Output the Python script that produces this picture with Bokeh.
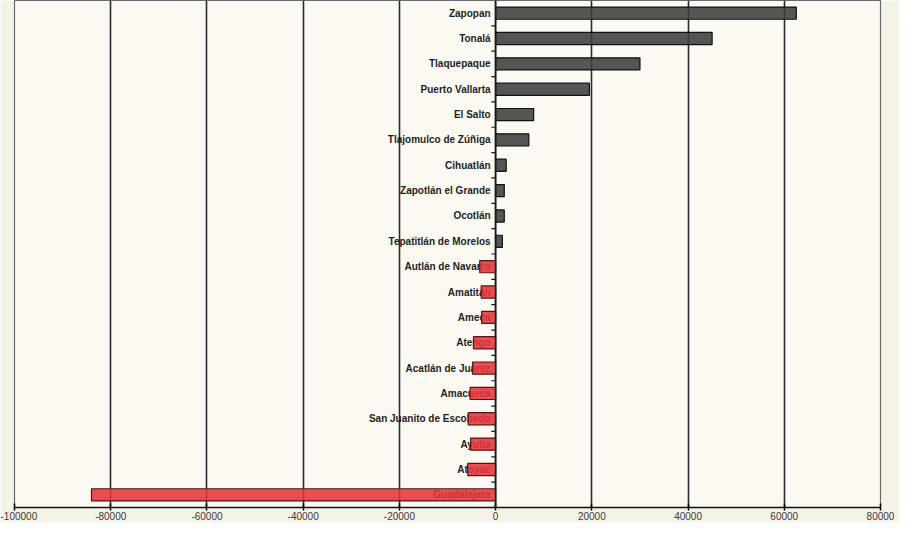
from bokeh.plotting import figure
from bokeh.models import Range1d, FixedTicker, ColumnDataSource, Span, NumeralTickFormatter
from bokeh.core.properties import value
from bokeh.embed import file_html
from bokeh.resources import INLINE

municipios = ["Zapopan", "Tonalá", "Tlaquepaque", "Puerto Vallarta", "El Salto",
              "Tlajomulco de Zúñiga", "Cihuatlán", "Zapotlán el Grande", "Ocotlán",
              "Tepatitlán de Morelos", "Autlán de Navarro", "Amatitán", "Ameca",
              "Atengo", "Acatlán de Juárez", "Amacueca", "San Juanito de Escobedo",
              "Ayutla", "Atoyac", "Guadalajara"]
crecimiento = [62500, 45000, 30000, 19500, 7900, 6900, 2200, 1800, 1800, 1400,
               -3300, -3000, -2900, -4600, -4800, -5300, -5700, -5200, -5800, -84000]
x_ticks = [-100000, -80000, -60000, -40000, -20000, 0, 20000, 40000, 60000, 80000]

n = len(municipios)
ypos = [n - i - 0.5 for i in range(n)]
fills = ["#3e3e3e" if v > 0 else "#e5343b" for v in crecimiento]
lines = ["#111111" if v > 0 else "#5a1414" for v in crecimiento]

src = ColumnDataSource(dict(y=ypos, v=crecimiento, name=municipios, fill=fills, line=lines))

p = figure(width=899, height=522, output_backend="svg", toolbar_location=None,
           x_range=Range1d(x_ticks[0], x_ticks[-1]), y_range=Range1d(0, n),
           y_axis_location=None,
           min_border_left=14, min_border_right=19, min_border_top=0, min_border_bottom=0)

p.background_fill_color = "#fbf9f2"
p.border_fill_color = "#f5f2e7"
p.outline_line_color = "#6a6a6a"
p.outline_line_width = 1.2

p.ygrid.visible = False
p.xgrid.ticker = FixedTicker(ticks=x_ticks)
p.xgrid.grid_line_color = "#2a2a2a"
p.xgrid.grid_line_width = 1.6

p.xaxis.ticker = FixedTicker(ticks=x_ticks)
p.xaxis.formatter = NumeralTickFormatter(format="0")
p.xaxis.axis_line_color = "#111111"
p.xaxis.axis_line_width = 1.5
p.xaxis.major_tick_in = 4
p.xaxis.major_tick_out = 3
p.xaxis.major_tick_line_width = 1.5
p.xaxis.minor_tick_line_color = None
p.xaxis.major_label_text_font = "Liberation Sans"
p.xaxis.major_label_text_font_size = "10px"
p.xaxis.major_label_text_color = "#3a3a3a"
p.xaxis.major_label_standoff = 1

# category labels next to the zero axis
p.text(x=0, y="y", text="name", source=src, x_offset=-5,
       text_align="right", text_baseline="middle",
       text_font=value("Liberation Sans"), text_font_style="bold",
       text_font_size="10px", text_color="#1e1e1e")

p.hbar(y="y", left=0, right="v", height=0.48, source=src,
       fill_color="fill", line_color="line", line_width=1.2, fill_alpha=0.88)

# vertical axis at zero with category separators
p.add_layout(Span(location=0, dimension="height", line_color="#1a1a1a", line_width=1.5))
bounds = list(range(1, n))
p.segment(x0=[-900] * len(bounds), x1=[0] * len(bounds), y0=bounds, y1=bounds,
          line_color="#1a1a1a", line_width=1.2)

open("out.html", "w").write(file_html(p, INLINE))
